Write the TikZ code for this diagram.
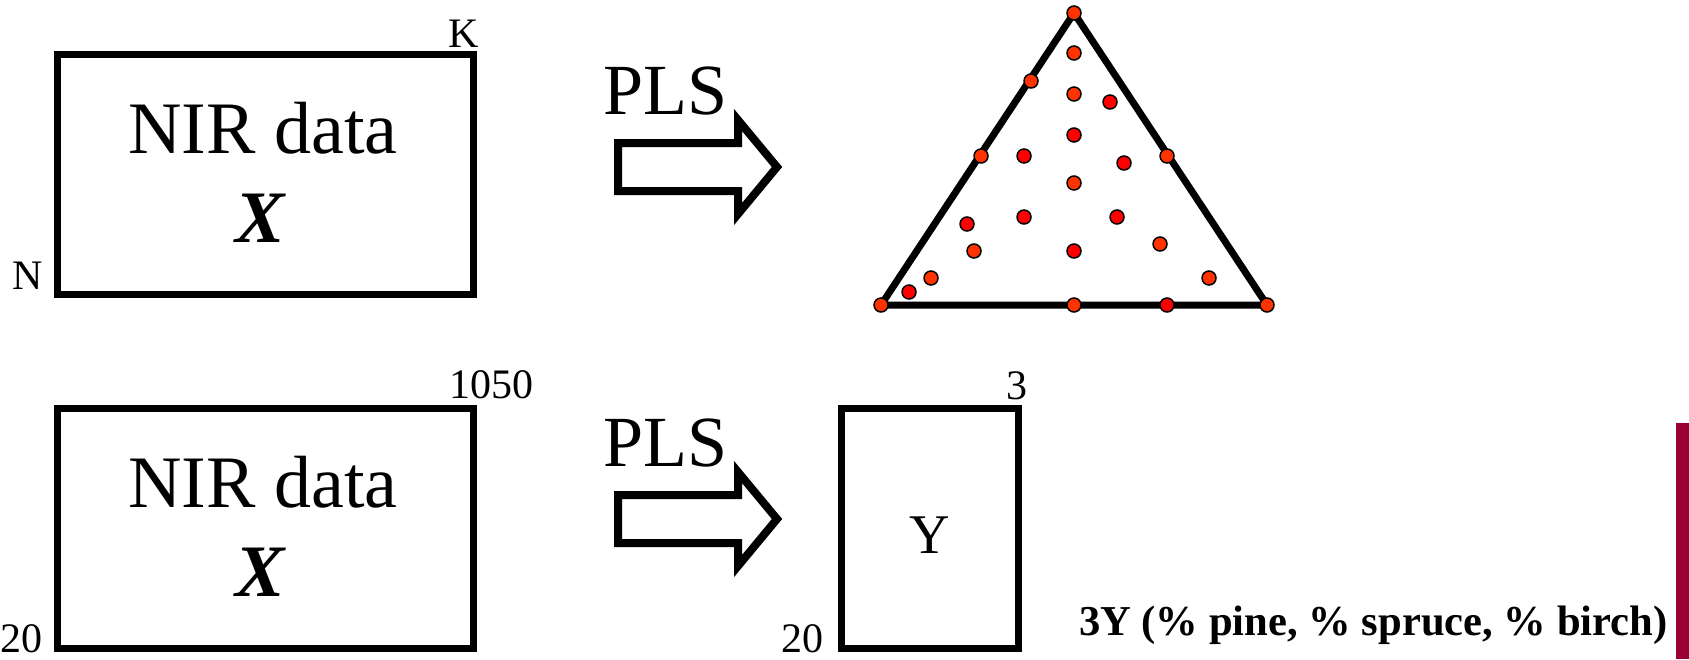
\documentclass[tikz,border=0pt]{standalone}
\usepackage{fontspec}
\setmainfont{Liberation Serif}
\definecolor{dotorange}{RGB}{255,51,0}
\definecolor{dotred}{RGB}{255,0,0}
\definecolor{barred}{RGB}{153,0,51}
\tikzset{
  databox/.style={draw=black, line width=3.5pt, rectangle, inner sep=0pt, outer sep=0pt},
  bigtxt/.style={inner sep=0pt, outer sep=0pt, font=\fontsize{37pt}{44pt}\selectfont},
  plstxt/.style={inner sep=0pt, outer sep=0pt, font=\fontsize{36pt}{43pt}\selectfont},
  dimtxt/.style={inner sep=0pt, outer sep=0pt, font=\fontsize{21pt}{25pt}\selectfont},
  ytxt/.style={inner sep=0pt, outer sep=0pt, font=\fontsize{28pt}{33pt}\selectfont},
  captxt/.style={inner sep=0pt, outer sep=0pt, font=\fontsize{21.3pt}{25pt}\selectfont\bfseries},
  blockarrow/.style={draw=black, line width=4pt, miter limit=10},
  triline/.style={draw=black, line width=3.5pt, line join=round},
  dotmark/.style={circle, draw=black, line width=0.75pt, minimum size=7pt, inner sep=0pt, outer sep=0pt}
}
\begin{document}
\begin{tikzpicture}[x=0.5pt,y=-0.5pt]
\useasboundingbox (0,0) rectangle (1689,659);
\fill[white] (0,0) rectangle (1689,659);

% top row
\node[databox, minimum width=208pt, minimum height=119.75pt] (xbox1) at (265.5,174.25) {};
\node[bigtxt, anchor=base] (nir1) at (263,153) {NIR data};
\node[bigtxt, anchor=base] (xlab1) at (261,242) {\textbf{\textit{X}}};
\node[dimtxt, anchor=base east] (klab) at (479,47) {K};
\node[dimtxt, anchor=base west] (nlab) at (12,289) {N};

\node[plstxt, anchor=base west] (pls1) at (603,114) {PLS};
\draw[blockarrow] (618,143) -- (738,143) -- (738,120) -- (777,167) -- (738,214) -- (738,191) -- (618,191) -- cycle;

\coordinate (tA) at (1074,13);
\coordinate (tB) at (881,305);
\coordinate (tC) at (1267,305);
\draw[triline] (tA) -- (tB) -- (tC) -- cycle;
\foreach \px/\py/\pc [count=\i] in {
  1074/13/dotorange, 1074/53/dotorange, 1031/81/dotorange, 1074/94/dotorange,
  1110/102/dotred, 1074/135/dotred, 981/156/dotorange, 1024/156/dotred,
  1124/163/dotred, 1167/156/dotorange, 1074/183/dotorange, 967/224/dotred,
  1024/217/dotred, 1117/217/dotred, 974/251/dotorange, 1074/251/dotred,
  1160/244/dotorange, 931/278/dotorange, 909/292/dotred, 1209/278/dotorange,
  881/305/dotorange, 1074/305/dotorange, 1167/305/dotred, 1267/305/dotorange}
  \node[dotmark, fill=\pc] (d\i) at (\px,\py) {};

% bottom row
\node[databox, minimum width=208pt, minimum height=119.75pt] (xbox2) at (265.5,528.25) {};
\node[bigtxt, anchor=base] (nir2) at (263,507) {NIR data};
\node[bigtxt, anchor=base] (xlab2) at (261,596) {\textbf{\textit{X}}};
\node[dimtxt, anchor=base west] (klab2) at (449,398) {1050};
\node[dimtxt, anchor=base west] (nlab2) at (0,652) {20};

\node[plstxt, anchor=base west] (pls2) at (603,466) {PLS};
\draw[blockarrow] (618,495) -- (738,495) -- (738,472) -- (777,519) -- (738,566) -- (738,543) -- (618,543) -- cycle;

\node[databox, minimum width=88.5pt, minimum height=119.75pt] (ybox) at (930,528.25) {};
\node[ytxt, anchor=base] (ylab) at (930,553) {Y};
\node[dimtxt, anchor=base west] (ylab3) at (1006,399) {3};
\node[dimtxt, anchor=base west] (ylab20) at (781,652) {20};

\node[captxt, anchor=base west] (cap) at (1079,635.5) {3Y (\% pine, \% spruce, \% birch)};
\fill[barred] (1676,423) rectangle (1689,659);
\end{tikzpicture}
\end{document}
